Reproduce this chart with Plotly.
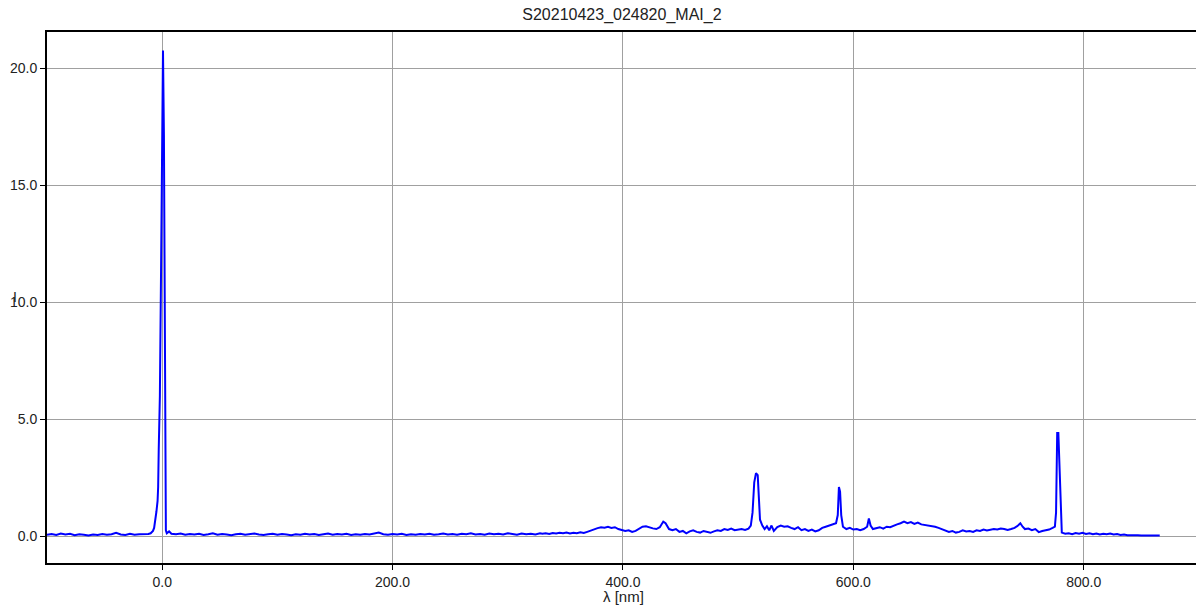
import plotly.graph_objects as go

title_text = 'S20210423_024820_MAI_2'
x_title = 'λ [nm]'
y_title = 'I'
x_ticks = [0, 200, 400, 600, 800]
y_ticks = [0, 5, 10, 15, 20]

# baseline left of the zero order
wl_left = [-100, -96, -92, -88, -84, -80, -76, -72, -68, -64, -60, -56, -52, -48,
           -44, -40, -36, -32, -28, -24, -20, -16, -12]
int_left = [0.06, 0.09, 0.05, 0.11, 0.07, 0.10, 0.04, 0.08, 0.06, 0.03, 0.07, 0.05,
            0.09, 0.06, 0.08, 0.14, 0.07, 0.05, 0.10, 0.06, 0.08, 0.07, 0.09]

# zero order peak
wl_zero = [-10, -8, -7, -6, -5, -4, -3.5, -3, -2, -1, 0, 0.7, 1.5, 2.3, 3.2, 4, 6, 8]
int_zero = [0.12, 0.22, 0.35, 0.65, 1.05, 1.5, 2.1, 3.7, 6.0, 11.3, 19.3, 20.75,
            17.15, 4.3, 0.25, 0.12, 0.2, 0.1]

# flat baseline 12..328 nm
wl_flat = [12, 16, 20, 24, 28, 32, 36, 40, 44, 48, 52, 56, 60, 64, 68, 72, 76, 80,
           84, 88, 92, 96, 100, 104, 108, 112, 116, 120, 124, 128, 132, 136, 140,
           144, 148, 152, 156, 160, 164, 168, 172, 176, 180, 184, 188, 192, 196,
           200, 204, 208, 212, 216, 220, 224, 228, 232, 236, 240, 244, 248, 252,
           256, 260, 264, 268, 272, 276, 280, 284, 288, 292, 296, 300, 304, 308,
           312, 316, 320, 324, 328]
int_flat = [0.08, 0.11, 0.06, 0.09, 0.07, 0.10, 0.05, 0.08, 0.12, 0.06,
            0.09, 0.07, 0.04, 0.08, 0.10, 0.06, 0.09, 0.11, 0.07, 0.05,
            0.08, 0.10, 0.06, 0.09, 0.07, 0.04, 0.08, 0.06, 0.10, 0.07,
            0.09, 0.05, 0.08, 0.11, 0.06, 0.09, 0.07, 0.10, 0.05, 0.08,
            0.06, 0.09, 0.07, 0.11, 0.15, 0.08, 0.06, 0.09, 0.07, 0.10,
            0.05, 0.08, 0.06, 0.09, 0.07, 0.10, 0.06, 0.08, 0.11, 0.07,
            0.09, 0.06, 0.10, 0.08, 0.12, 0.07, 0.09, 0.06, 0.11, 0.08,
            0.10, 0.07, 0.12, 0.09, 0.06, 0.11, 0.08, 0.10, 0.07, 0.12]

# spectrum 330..866 nm
wl_spec = [330, 333, 336, 339, 342, 345, 348, 351, 354, 357, 360, 363, 366, 369,
           372, 375, 378, 381, 384, 387, 390, 393, 396, 399, 402, 405, 408, 411,
           414, 417, 420, 423, 426, 429, 432, 435, 437, 440, 443, 446, 449, 452,
           455, 458, 461, 464, 467, 470, 473, 476, 479, 482, 485, 488, 491, 494,
           497, 500, 503, 506, 509, 511, 512.5, 514, 515.5, 517, 518, 519, 521,
           523, 525, 527, 529, 531, 534, 537, 540, 543, 546, 549, 552, 555, 558,
           561, 564, 567, 570, 573, 576, 579, 582, 585, 586.5, 587.5, 588.5, 589.5,
           591, 594, 597, 600, 603, 606, 609, 612, 613.5, 615, 617, 620, 623, 626,
           629, 632, 635, 638, 641, 644, 647, 650, 653, 656, 659, 662, 665, 668,
           671, 674, 677, 680, 683, 686, 689, 692, 695, 698, 701, 704, 707, 710,
           713, 716, 719, 722, 725, 728, 731, 734, 737, 740, 743, 745, 747, 749,
           752, 755, 758, 761, 764, 767, 770, 773, 775, 776, 777, 778, 779, 780,
           781, 784, 787, 790, 793, 796, 799, 802, 805, 808, 811, 814, 817, 820,
           823, 826, 829, 832, 835, 838, 841, 844, 847, 850, 853, 856, 859, 862, 866]
int_spec = [0.10, 0.12, 0.09, 0.13, 0.11, 0.14, 0.12, 0.15, 0.11, 0.14, 0.12, 0.16,
            0.13, 0.18, 0.24, 0.30, 0.34, 0.38, 0.36, 0.40, 0.35, 0.38, 0.30, 0.26,
            0.22, 0.25, 0.18, 0.22, 0.30, 0.40, 0.42, 0.36, 0.33, 0.30, 0.38, 0.62,
            0.55, 0.30, 0.25, 0.30, 0.18, 0.22, 0.12, 0.20, 0.25, 0.18, 0.15, 0.22,
            0.18, 0.14, 0.20, 0.25, 0.22, 0.30, 0.26, 0.32, 0.25, 0.28, 0.30, 0.26,
            0.32, 0.45, 1.0, 2.3, 2.69, 2.6, 1.4, 0.7, 0.45, 0.30, 0.42, 0.25, 0.45,
            0.22, 0.38, 0.45, 0.40, 0.42, 0.35, 0.30, 0.38, 0.25, 0.30, 0.22, 0.28,
            0.20, 0.25, 0.35, 0.40, 0.45, 0.50, 0.55, 0.9, 2.1, 1.9, 0.9, 0.40, 0.30,
            0.35, 0.28, 0.30, 0.25, 0.30, 0.40, 0.75, 0.45, 0.30, 0.35, 0.38, 0.32,
            0.40, 0.38, 0.45, 0.50, 0.55, 0.62, 0.55, 0.60, 0.52, 0.58, 0.50, 0.48,
            0.45, 0.42, 0.40, 0.35, 0.30, 0.22, 0.18, 0.22, 0.15, 0.18, 0.25, 0.20,
            0.22, 0.18, 0.25, 0.22, 0.28, 0.24, 0.26, 0.30, 0.28, 0.32, 0.30, 0.26,
            0.30, 0.35, 0.45, 0.55, 0.40, 0.30, 0.32, 0.25, 0.30, 0.17, 0.22, 0.25,
            0.28, 0.35, 0.40, 1.0, 4.4, 4.4, 3.0, 0.9, 0.15, 0.10, 0.12, 0.08, 0.13,
            0.10, 0.14, 0.09, 0.12, 0.08, 0.11, 0.07, 0.10, 0.08, 0.11, 0.07, 0.09,
            0.05, 0.07, 0.04, 0.05, 0.03, 0.04, 0.03, 0.04, 0.03, 0.03, 0.03, 0.03]

wavelength = wl_left + wl_zero + wl_flat + wl_spec
intensity = int_left + int_zero + int_flat + int_spec

fig = go.Figure(data=[
    go.Scatter(x=wavelength, y=intensity, mode='lines',
               line={'color': '#0000ff', 'width': 2})])

fig.update_layout(
    width=1196,
    height=610,
    template='simple_white',
    plot_bgcolor='white',
    paper_bgcolor='white',
    showlegend=False,
    title={'text': title_text,
           'font_size': 16,
           'x': 0.52,
           'xanchor': 'center',
           'y': 0.977,
           'yanchor': 'middle'},
    margin={'b': 47,
            'l': 47,
            'r': 0,
            't': 32},
    xaxis={'range': [-100, 897.5],
           'automargin': False,
           'tickvals': x_ticks,
           'tickformat': '.1f',
           'tickfont_size': 14,
           'ticks': 'outside',
           'ticklen': 5,
           'tickcolor': 'black',
           'showline': True,
           'linecolor': 'black',
           'linewidth': 2,
           'mirror': True,
           'showgrid': True,
           'gridcolor': '#a0a0a0',
           'gridwidth': 1,
           'zeroline': False},
    yaxis={'range': [-1.15, 21.54],
           'automargin': False,
           'tickvals': y_ticks,
           'tickformat': '.1f',
           'tickfont_size': 14,
           'ticks': 'outside',
           'ticklen': 5,
           'tickcolor': 'black',
           'showline': True,
           'linecolor': 'black',
           'linewidth': 2,
           'showgrid': True,
           'gridcolor': '#a0a0a0',
           'gridwidth': 1,
           'zeroline': False},
    font={'family': 'Liberation Sans, Arial',
          'color': '#222222'})

# y axis label sits over the 10.0 tick label, as in the original
fig.add_annotation(
    text=y_title,
    font_size=14,
    showarrow=False,
    x=-0.031,
    xref='paper',
    xanchor='left',
    y=10.2,
    yref='y',
    yanchor='middle')

fig.add_annotation(
    text=x_title,
    font_size=15,
    showarrow=False,
    x=0.502,
    xref='paper',
    xanchor='center',
    y=-0.064,
    yref='paper',
    yanchor='middle')

# drop the default body margin so the figure starts at the window corner
fig.write_html('out.html',
               config={'displayModeBar': False},
               post_script="document.body.style.margin='0';")
